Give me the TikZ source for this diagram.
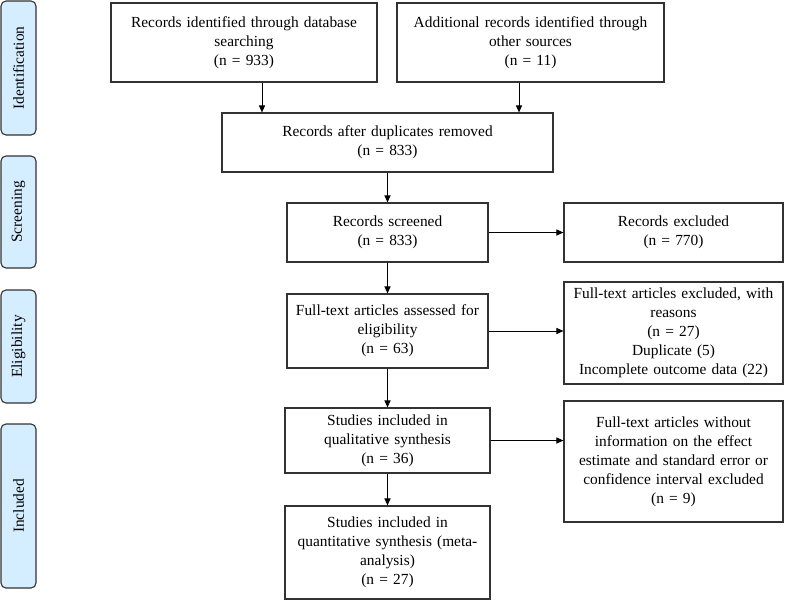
\documentclass[tikz,border=0pt]{standalone}
\usepackage{fontspec}
\setmainfont{Liberation Serif}
\usetikzlibrary{arrows.meta,calc}
\definecolor{sidefill}{RGB}{213,238,255}
\definecolor{edge}{RGB}{50,50,50}
\begin{document}
\begin{tikzpicture}[x=1pt,y=-1pt,
  box/.style={draw=edge,line width=1.1pt,align=center,inner sep=2pt,
    font=\fontsize{15.4}{18.9}\selectfont},
  side/.style={draw=edge,line width=1.1pt,fill=sidefill,rounded corners=5pt,
    rotate=90,font=\fontsize{15.4}{18.9}\selectfont,inner sep=0pt},
  arr/.style={-{Triangle[length=7pt,width=6pt]},line width=1pt,draw=black}]
\useasboundingbox (0,0) rectangle (787,600);
% side labels (width = vertical extent after rotation)
\node[side,minimum width=134pt,minimum height=35pt] (sid) at (18.5,68) {Identification};
\node[side,minimum width=112pt,minimum height=35pt] (ssc) at (18.5,212) {Screening};
\node[side,minimum width=113pt,minimum height=35pt] (sel) at (18.5,346.5) {Eligibility};
\node[side,minimum width=164pt,minimum height=35pt] (sin) at (18.5,506) {Included};
% boxes
\node[box,minimum width=266pt,minimum height=79pt,text width=258pt] (b1) at (244,42.5)
  {Records identified through database\\searching\\(n = 933)};
\node[box,minimum width=267pt,minimum height=79pt,text width=259pt] (b2) at (530.5,42.5)
  {Additional records identified through\\other sources\\(n = 11)};
\node[box,minimum width=331pt,minimum height=59pt,text width=323pt] (b3) at (387.5,142.5)
  {Records after duplicates removed\\(n = 833)};
\node[box,minimum width=201pt,minimum height=59pt,text width=193pt] (b4) at (387.5,232.5)
  {Records screened\\(n = 833)};
\node[box,minimum width=219pt,minimum height=59pt,text width=211pt] (e1) at (673.5,232.5)
  {Records excluded\\(n = 770)};
\node[box,minimum width=201pt,minimum height=74pt,text width=193pt] (b5) at (387.5,331)
  {Full-text articles assessed for\\eligibility\\(n = 63)};
\node[box,minimum width=219pt,minimum height=102pt,text width=215pt] (e2) at (673.5,333)
  {Full-text articles excluded, with\\reasons\\(n = 27)\\Duplicate (5)\\Incomplete outcome data (22)};
\node[box,minimum width=205pt,minimum height=65pt,text width=197pt] (b6) at (387.5,440.5)
  {Studies included in\\qualitative synthesis\\(n = 36)};
\node[box,minimum width=219pt,minimum height=121pt,text width=215pt] (e3) at (673.5,461.5)
  {Full-text articles without\\information on the effect\\estimate and standard error or\\confidence interval excluded\\(n = 9)\\[8pt]};
\node[box,minimum width=205pt,minimum height=93pt,text width=197pt] (b7) at (387.5,552.5)
  {Studies included in\\quantitative synthesis (meta-\\analysis)\\(n = 27)};
% connectors
\draw[arr] ([xshift=18pt]b1.south) -- ([xshift=18pt]b1.south |- b3.north);
\draw[arr] ([xshift=-11.5pt]b2.south) -- ([xshift=-11.5pt]b2.south |- b3.north);
\draw[arr] (b3) -- (b4);
\draw[arr] (b4) -- (e1);
\draw[arr] (b4) -- (b5);
\draw[arr] (b5.east) -- (b5.east -| e2.west);
\draw[arr] (b5) -- (b6);
\draw[arr] (b6.east) -- (b6.east -| e3.west);
\draw[arr] (b6) -- (b7);
\end{tikzpicture}
\end{document}
